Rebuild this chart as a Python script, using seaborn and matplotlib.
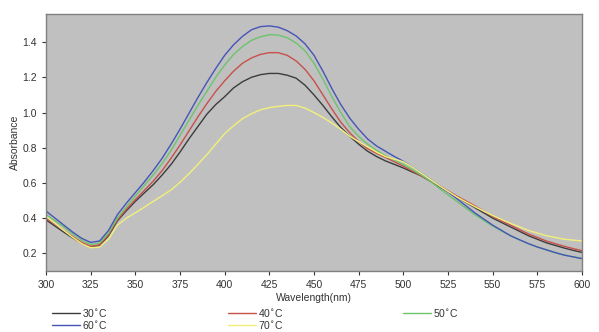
import numpy as np
import pandas as pd
import matplotlib
matplotlib.use("Agg")
import matplotlib.pyplot as plt
import seaborn as sns

# wavelength grid (nm) and absorbance
wavelength = list(range(300, 601, 5))

abs_30 = [0.39, 0.355, 0.32, 0.287, 0.257, 0.237, 0.245, 0.30, 0.385, 0.442,
          0.495, 0.543, 0.59, 0.645, 0.705, 0.775, 0.85, 0.92, 0.99, 1.045,
          1.09, 1.14, 1.175, 1.20, 1.215, 1.222, 1.222, 1.212, 1.195, 1.155,
          1.10, 1.04, 0.975, 0.915, 0.865, 0.82, 0.78, 0.75, 0.725, 0.705,
          0.685, 0.662, 0.64, 0.61, 0.58, 0.55, 0.52, 0.49, 0.46, 0.43,
          0.40, 0.375, 0.35, 0.325, 0.30, 0.28, 0.26, 0.245, 0.23, 0.217, 0.205]
abs_40 = [0.40, 0.365, 0.33, 0.295, 0.262, 0.24, 0.248, 0.305, 0.39, 0.45,
          0.505, 0.557, 0.61, 0.67, 0.74, 0.815, 0.895, 0.975, 1.05, 1.12,
          1.18, 1.235, 1.28, 1.31, 1.33, 1.34, 1.34, 1.325, 1.293, 1.245,
          1.18, 1.10, 1.02, 0.945, 0.885, 0.835, 0.795, 0.768, 0.745, 0.72,
          0.695, 0.668, 0.64, 0.613, 0.585, 0.555, 0.525, 0.498, 0.47, 0.44,
          0.41, 0.385, 0.36, 0.335, 0.31, 0.29, 0.27, 0.255, 0.24, 0.227, 0.215]
abs_50 = [0.42, 0.385, 0.35, 0.31, 0.275, 0.25, 0.258, 0.315, 0.40, 0.465,
          0.525, 0.585, 0.645, 0.71, 0.785, 0.87, 0.955, 1.04, 1.12, 1.20,
          1.27, 1.33, 1.375, 1.41, 1.43, 1.442, 1.44, 1.425, 1.395, 1.35,
          1.28, 1.19, 1.09, 1.00, 0.92, 0.865, 0.82, 0.785, 0.755, 0.73,
          0.705, 0.675, 0.645, 0.61, 0.57, 0.532, 0.495, 0.457, 0.42, 0.387,
          0.355, 0.327, 0.30, 0.277, 0.255, 0.236, 0.22, 0.204, 0.19, 0.18, 0.17]
abs_60 = [0.44, 0.40, 0.36, 0.32, 0.285, 0.262, 0.27, 0.33, 0.42, 0.485,
          0.545, 0.605, 0.67, 0.74, 0.82, 0.905, 0.995, 1.085, 1.17, 1.25,
          1.325, 1.385, 1.433, 1.47, 1.488, 1.492, 1.485, 1.465, 1.435, 1.39,
          1.325, 1.235, 1.136, 1.045, 0.968, 0.905, 0.85, 0.81, 0.78, 0.75,
          0.723, 0.69, 0.655, 0.62, 0.585, 0.548, 0.51, 0.47, 0.43, 0.395,
          0.36, 0.33, 0.30, 0.277, 0.255, 0.236, 0.22, 0.204, 0.19, 0.18, 0.17]
abs_70 = [0.41, 0.37, 0.33, 0.29, 0.255, 0.232, 0.235, 0.28, 0.36, 0.40,
          0.43, 0.462, 0.495, 0.527, 0.56, 0.603, 0.652, 0.705, 0.76, 0.82,
          0.88, 0.925, 0.965, 0.993, 1.015, 1.028, 1.035, 1.04, 1.04, 1.025,
          1.00, 0.972, 0.94, 0.905, 0.865, 0.835, 0.805, 0.775, 0.75, 0.735,
          0.72, 0.69, 0.655, 0.62, 0.585, 0.552, 0.52, 0.492, 0.465, 0.44,
          0.415, 0.392, 0.37, 0.35, 0.33, 0.315, 0.30, 0.29, 0.28, 0.275, 0.27]

temps = ["30$^{\\circ}$C", "40$^{\\circ}$C", "50$^{\\circ}$C", "60$^{\\circ}$C", "70$^{\\circ}$C"]
colors = ["#3c3c3c", "#c8504a", "#6cc46c", "#4654b8", "#f2f07a"]

frames = []
for t, vals in zip(temps, [abs_30, abs_40, abs_50, abs_60, abs_70]):
    frames.append(pd.DataFrame({"Wavelength": wavelength, "Absorbance": vals, "Temp": t}))
df = pd.concat(frames, ignore_index=True)

sns.set_style("white")
plt.rcParams["font.family"] = ["Liberation Sans", "DejaVu Sans"]

fig = plt.figure(figsize=(5.99, 3.32), dpi=100)
ax = fig.add_axes([0.0768, 0.184, 0.8948, 0.774])
ax.set_facecolor("#c0c0c0")

sns.lineplot(data=df, x="Wavelength", y="Absorbance", hue="Temp",
             palette=dict(zip(temps, colors)), linewidth=1.0, ax=ax, legend=True)

ax.set_xlim(300, 600)
ax.set_ylim(0.1, 1.56)
ax.set_xticks(range(300, 601, 25))
ax.set_yticks([0.2, 0.4, 0.6, 0.8, 1.0, 1.2, 1.4])
ax.set_yticklabels(["0.2", "0.4", "0.6", "0.8", "1.0", "1.2", "1.4"])
ax.tick_params(axis="both", labelsize=7.5, colors="#333333", length=3, width=0.8,
               direction="out", bottom=True, left=True)
for s in ax.spines.values():
    s.set_color("#808080")
    s.set_linewidth(1.0)
ax.set_xlabel("Wavelength(nm)", fontsize=7.5, color="#333333", labelpad=2)
ax.set_ylabel("Absorbance", fontsize=7.5, color="#333333", labelpad=2)

handles, labels = ax.get_legend_handles_labels()
ax.get_legend().remove()
order = [0, 3, 1, 4, 2]
leg = fig.legend([handles[i] for i in order], [labels[i] for i in order],
                 loc="upper left", bbox_to_anchor=(0.087, 0.076), ncol=3,
                 frameon=False, fontsize=7.5, handlelength=2.7, handletextpad=0.2,
                 columnspacing=11.5, labelspacing=0.0, borderpad=0, borderaxespad=0)
for t in leg.get_texts():
    t.set_color("#333333")

fig.savefig("out.png", dpi=100)
